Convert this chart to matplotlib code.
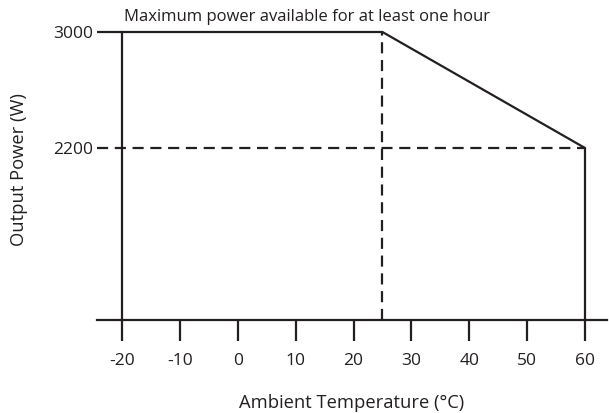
import matplotlib
matplotlib.use("Agg")
import matplotlib.pyplot as plt

plt.rcParams['font.family'] = ['Open Sans', 'DejaVu Sans']

# Data
x_ticks = [-20, -10, 0, 10, 20, 30, 40, 50, 60]
y_ticks = [2200, 3000]
curve_temp = [-20, 25, 60]
curve_power = [3000, 3000, 2200]
knee_temp = 25
t_min, t_max = -20, 60
p_max, p_derated = 3000, 2200
title_text = "Maximum power available for at least one hour"

W, H = 609, 413
fig = plt.figure(figsize=(W / 100, H / 100), dpi=100)
ax = fig.add_axes([97 / W, (H - 320) / H, 510 / W, 300 / H])

k = 0.145  # px per W
y0 = 3000 - (320 - 32) / k
y1 = y0 + 300 / k
px_per_deg = 463 / 80
x0 = -20 - 25 / px_per_deg
x1 = 60 + 22 / px_per_deg
ax.set_xlim(x0, x1)
ax.set_ylim(y0, y1)

lw = 1.6
col = '#231f20'
dash = (0, (5, 3))

ax.plot([t_min] + curve_temp + [t_max], [y0] + curve_power + [y0],
        color=col, lw=lw, solid_joinstyle='miter', clip_on=False)
ax.plot([x0, t_min], [p_max, p_max], color=col, lw=lw, solid_capstyle='butt')
ax.plot([x0, t_max], [p_derated, p_derated], color=col, lw=lw, linestyle=dash)
ax.plot([knee_temp, knee_temp], [y0, p_max], color=col, lw=lw, linestyle=dash)

for s in ['top', 'right', 'left']:
    ax.spines[s].set_visible(False)
ax.spines['bottom'].set_linewidth(lw)
ax.spines['bottom'].set_color(col)

fs = 12.5
ax.set_xticks(x_ticks)
ax.set_xticklabels([str(v) for v in x_ticks])
ax.tick_params(axis='x', direction='out', length=15, width=lw, color=col,
               pad=9, labelsize=fs, labelcolor=col)
ax.set_yticks(y_ticks)
ax.set_yticklabels([str(v) for v in y_ticks])
ax.tick_params(axis='y', length=0, pad=3, labelsize=fs, labelcolor=col)

ax.set_xlabel("Ambient Temperature (°C)", fontsize=13.2, color=col, labelpad=18)
ax.set_ylabel("Output Power (W)", fontsize=13.2, color=col, labelpad=18)

ax.text(-19.6, 3045, title_text, fontsize=12, color=col, ha='left', va='bottom')

fig.savefig("out.png", dpi=100)
